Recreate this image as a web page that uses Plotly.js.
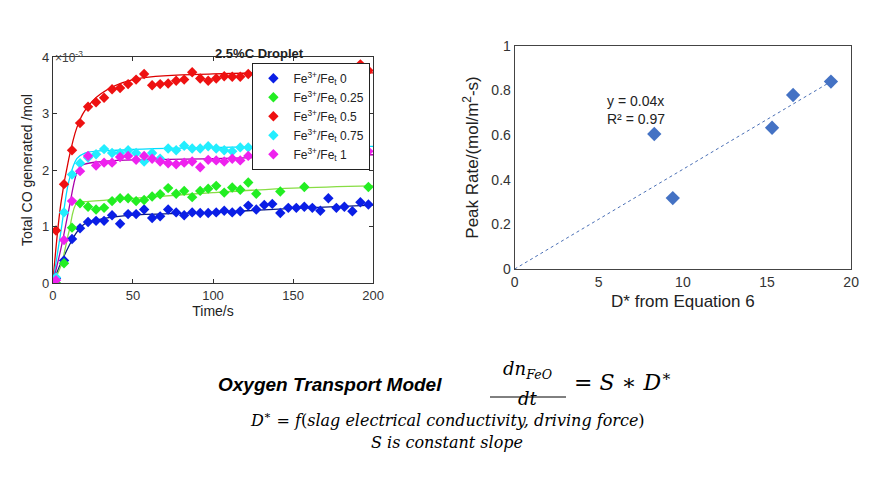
<!DOCTYPE html>
<html><head><meta charset="utf-8">
<script src="https://cdn.plot.ly/plotly-3.0.1.min.js"></script>
<style>body{margin:0;background:#fff}#chart{width:895px;height:483px}</style>
</head><body><div id="chart"></div>
<script>
// left panel: total CO (x1e-3 mol) vs time
var tBlue = [0,2,7,12,17,22,27,32,37,42,47,52,57,62,67,72,77,82,87,92,97,102,107,112,117,122,127,132,137,142,147,152,157,162,167,172,177,182,187,192,197];
var coBlue = [0,0.08,0.4,0.78,0.97,1.08,1.1,1.1,1.2,1.05,1.22,1.22,1.3,1.15,1.18,1.3,1.25,1.2,1.25,1.24,1.24,1.25,1.28,1.25,1.27,1.37,1.3,1.38,1.4,1.24,1.33,1.33,1.35,1.33,1.28,1.5,1.33,1.35,1.27,1.43,1.39];
var tGreen = [0,2,7,12,17,22,27,32,37,42,47,52,57,62,67,72,77,82,87,92,97,102,107,112,117,122,127,142,157,197];
var coGreen = [0,0,0.35,0.98,1.41,1.35,1.3,1.33,1.45,1.5,1.5,1.45,1.47,1.53,1.57,1.68,1.58,1.63,1.52,1.63,1.67,1.72,1.6,1.69,1.65,1.78,1.58,1.62,1.7,1.7];
var tRed = [0,2,7,12,17,22,27,32,37,42,47,52,57,62,67,72,77,82,87,92,97,102,107,112,117,122,192,197];
var coRed = [0,0.93,1.75,2.35,2.83,3.12,3.2,3.28,3.43,3.45,3.52,3.6,3.7,3.5,3.52,3.53,3.58,3.6,3.73,3.62,3.58,3.62,3.66,3.65,3.65,3.7,3.87,3.76];
var tCyan = [0,2,7,12,17,22,27,32,37,42,47,52,57,62,67,72,77,82,87,92,97,102,107,112,117,122];
var coCyan = [0,0.1,1.25,1.92,2.12,2.22,2.28,2.37,2.3,2.3,2.35,2.3,2.15,2.3,2.2,2.38,2.35,2.43,2.38,2.38,2.42,2.38,2.35,2.33,2.4,2.4];
var tMag = [0,2,7,12,17,22,27,32,37,42,47,52,57,62,67,72,77,82,87,92,97,102,107,112,117,122,197];
var coMag = [0,0.05,0.76,1.45,1.98,2.25,2.08,2.13,2.13,2.23,2.25,2.18,2.25,2.2,2.15,2.12,2.1,2.13,2.15,2.05,2.18,2.17,2.15,2.2,2.17,2.25,2.33];

// fitted curves
var tFitBlue = [0,5,10,15,20,30,50,100,150,200];
var fitBlue = [0,0.35,0.65,0.9,1.05,1.13,1.2,1.25,1.32,1.38];
var tFitGreen = [0,5,10,15,20,50,100,150,200];
var fitGreen = [0,0.3,0.9,1.42,1.44,1.5,1.6,1.68,1.72];
var tFitRed = [0,5,10,15,20,30,50,100,200];
var fitRed = [0,1.4,2.2,2.75,3.05,3.35,3.6,3.7,3.72];
var tFitCyan = [0,5,10,15,20,40,100,200];
var fitCyan = [0,0.9,1.8,2.2,2.3,2.35,2.4,2.42];
var tFitMag = [0,5,10,15,18,30,100,200];
var fitMag = [0,0.6,1.3,1.95,2.08,2.15,2.2,2.27];

// right panel
var dStar = [8.3,9.4,15.3,16.55,18.8];
var peakRate = [0.605,0.318,0.633,0.78,0.84];
var trendX = [0,18.8];
var trendY = [0,0.84];

var series = [
  {name:'0', t:tBlue, y:coBlue, ft:tFitBlue, fy:fitBlue, mc:'#0a1ee6', lc:'#0a1a80'},
  {name:'0.25', t:tGreen, y:coGreen, ft:tFitGreen, fy:fitGreen, mc:'#22ee22', lc:'#88dd44'},
  {name:'0.5', t:tRed, y:coRed, ft:tFitRed, fy:fitRed, mc:'#ee1111', lc:'#dd0000'},
  {name:'0.75', t:tCyan, y:coCyan, ft:tFitCyan, fy:fitCyan, mc:'#22eeff', lc:'#00ddff'},
  {name:'1', t:tMag, y:coMag, ft:tFitMag, fy:fitMag, mc:'#ee22ee', lc:'#aa00aa'}
];

var data = [];
series.forEach(function(s){
  data.push({x:s.ft, y:s.fy, type:'scatter', mode:'lines', line:{color:s.lc, width:1.3, shape:'spline'},
    showlegend:false, hoverinfo:'skip', xaxis:'x', yaxis:'y'});
});
series.forEach(function(s){
  data.push({x:s.t, y:s.y, type:'scatter', mode:'markers', name:'Fe<sup>3+</sup>/Fe<sub>t</sub> '+s.name,
    marker:{symbol:'diamond', size:8, color:s.mc}, xaxis:'x', yaxis:'y'});
});
data.push({x:trendX, y:trendY, type:'scatter', mode:'lines', line:{color:'#4a6fb5', width:1, dash:'dot'},
  showlegend:false, xaxis:'x2', yaxis:'y2'});
data.push({x:dStar, y:peakRate, type:'scatter', mode:'markers', showlegend:false,
  marker:{symbol:'diamond', size:11, color:'#4472c4'}, xaxis:'x2', yaxis:'y2'});

var ax = {showgrid:false, zeroline:false, showline:true, mirror:'ticks', linecolor:'#333', linewidth:1,
  ticks:'inside', ticklen:4, tickcolor:'#333', tickfont:{size:13, color:'#333'}};
var ax2 = {showgrid:false, zeroline:false, showline:true, mirror:true, linecolor:'#444', linewidth:1,
  ticks:'', tickfont:{size:14, color:'#333'}};

var layout = {
  width:895, height:483, margin:{l:0,r:0,t:0,b:0},
  paper_bgcolor:'#fff', plot_bgcolor:'#fff',
  font:{family:'Liberation Sans, Arial, sans-serif', color:'#222'},
  xaxis: Object.assign({}, ax, {domain:[0.059,0.417], range:[0,200], tickvals:[0,50,100,150,200],
    title:{text:'Time/s', font:{size:14}, standoff:2}}),
  yaxis: Object.assign({}, ax, {domain:[0.414,0.882], range:[0,4], tickvals:[0,1,2,3,4],
    title:{text:'Total CO generated /mol', font:{size:14}, standoff:6}}),
  xaxis2: Object.assign({}, ax2, {anchor:'y2', domain:[0.575,0.951], range:[0,20], dtick:5,
    title:{text:'D* from Equation 6', font:{size:17}, standoff:6}}),
  yaxis2: Object.assign({}, ax2, {anchor:'x2', domain:[0.443,0.905], range:[0,1], dtick:0.2,
    tickformat:'~g', title:{text:'Peak Rate/(mol/m<sup>2</sup>-s)', font:{size:17}, standoff:8}}),
  legend:{x:0.282, y:0.87, xanchor:'left', yanchor:'top', bgcolor:'#fff', bordercolor:'#222', borderwidth:1,
    font:{size:12}, tracegroupgap:2, itemwidth:30},
  shapes:[{type:'line', xref:'paper', yref:'paper', x0:490/895, x1:566/895, y0:1-397/483, y1:1-397/483,
    line:{color:'#000', width:1}}],
  annotations:[
    {xref:'paper', yref:'paper', x:0.238, y:1-44/483, text:'<b>2.5%C Droplet</b>', showarrow:false, font:{size:13}},
    {xref:'paper', yref:'paper', x:0.059, y:1-47/483, xanchor:'left', text:'×10<sup>-3</sup>', showarrow:false, font:{size:12, color:'#444'}},
    {xref:'paper', yref:'paper', x:0.676, y:1-91/483, xanchor:'left', text:'y = 0.04x<br>R² = 0.97', align:'left', showarrow:false, font:{size:14}},
    {xref:'paper', yref:'paper', x:330/895, y:1-397/483, text:'<b><i>Oxygen Transport Model</i></b>', showarrow:false, font:{size:19, color:'#000'}},
    {xref:'paper', yref:'paper', x:528/895, y:1-384/483, text:'<i>dn</i><sub><i>FeO</i></sub>', showarrow:false, font:{size:18, family:'DejaVu Serif', color:'#000'}},
    {xref:'paper', yref:'paper', x:528/895, y:1-411/483, text:'<i>dt</i>', showarrow:false, font:{size:18, family:'DejaVu Serif', color:'#000'}},
    {xref:'paper', yref:'paper', x:572/895, y:1-397/483, xanchor:'left', text:'= <i>S</i> ∗ <i>D</i><sup>∗</sup>', showarrow:false, font:{size:22, family:'DejaVu Serif', color:'#000'}},
    {xref:'paper', yref:'paper', x:447/895, y:1-432/483, text:'<i>D</i><sup>∗</sup> = <i>f</i>(<i>slag electrical conductivity, driving force</i>)', showarrow:false, font:{size:16, family:'DejaVu Serif', color:'#000'}},
    {xref:'paper', yref:'paper', x:447/895, y:1-454/483, text:'<i>S is constant slope</i>', showarrow:false, font:{size:16, family:'DejaVu Serif', color:'#000'}}
  ]
};

Plotly.newPlot('chart', data, layout, {displayModeBar:false});
</script>
</body></html>
